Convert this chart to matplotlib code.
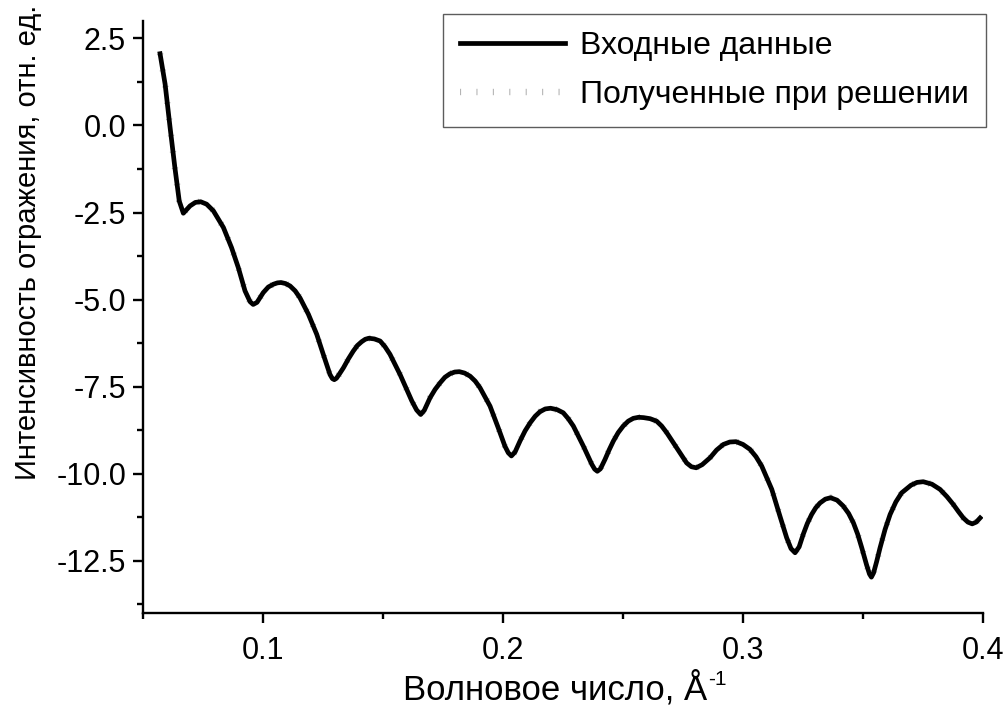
import matplotlib
matplotlib.use("Agg")
import matplotlib.pyplot as plt
from matplotlib.ticker import MultipleLocator

plt.rcParams['font.family'] = ['Liberation Sans', 'DejaVu Sans']
plt.rcParams['axes.unicode_minus'] = False

# волновое число, Å^-1
wave_number = [
    0.0571, 0.0592, 0.0613, 0.0633, 0.0651, 0.0668, 0.0696, 0.0718, 0.0740, 0.0765,
    0.0793, 0.0835, 0.0869, 0.0897, 0.0925, 0.0946, 0.0959, 0.0975, 0.0988, 0.1001,
    0.1022, 0.1043, 0.1060, 0.1075, 0.1094, 0.1113, 0.1134, 0.1154, 0.1189, 0.1224,
    0.1251, 0.1279, 0.1289, 0.1297, 0.1306, 0.1318, 0.1335, 0.1356, 0.1376, 0.1393,
    0.1411, 0.1426, 0.1441, 0.1464, 0.1488, 0.1508, 0.1529, 0.1571, 0.1620, 0.1640,
    0.1657, 0.1672, 0.1696, 0.1717, 0.1738, 0.1758, 0.1779, 0.1799, 0.1818, 0.1840,
    0.1863, 0.1884, 0.1904, 0.1946, 0.1980, 0.2008, 0.2022, 0.2035, 0.2050, 0.2071,
    0.2092, 0.2113, 0.2134, 0.2154, 0.2176, 0.2198, 0.2225, 0.2251, 0.2272, 0.2293,
    0.2335, 0.2370, 0.2382, 0.2393, 0.2406, 0.2425, 0.2442, 0.2460, 0.2480, 0.2501,
    0.2522, 0.2543, 0.2565, 0.2586, 0.2613, 0.2640, 0.2661, 0.2682, 0.2724, 0.2765,
    0.2785, 0.2805, 0.2830, 0.2863, 0.2890, 0.2918, 0.2945, 0.2971, 0.3000, 0.3029,
    0.3054, 0.3078, 0.3120, 0.3154, 0.3182, 0.3200, 0.3217, 0.3234, 0.3251, 0.3268,
    0.3286, 0.3303, 0.3321, 0.3343, 0.3365, 0.3392, 0.3418, 0.3440, 0.3460, 0.3478,
    0.3495, 0.3515, 0.3527, 0.3535, 0.3544, 0.3557, 0.3571, 0.3592, 0.3613, 0.3637,
    0.3661, 0.3700, 0.3725, 0.3751, 0.3787, 0.3821, 0.3850, 0.3876, 0.3898, 0.3918,
    0.3937, 0.3955, 0.3972, 0.3988,
]

# входные данные
input_intensity = [
    2.06, 1.19, -0.07, -1.22, -2.17, -2.52, -2.31, -2.21, -2.19, -2.26,
    -2.45, -2.93, -3.51, -4.08, -4.75, -5.06, -5.14, -5.08, -4.94, -4.80,
    -4.64, -4.56, -4.52, -4.51, -4.54, -4.61, -4.75, -4.95, -5.42, -6.00,
    -6.57, -7.15, -7.27, -7.30, -7.26, -7.14, -6.96, -6.70, -6.48, -6.32,
    -6.21, -6.14, -6.11, -6.13, -6.19, -6.35, -6.57, -7.15, -7.91, -8.17,
    -8.30, -8.18, -7.82, -7.58, -7.39, -7.23, -7.13, -7.08, -7.07, -7.11,
    -7.20, -7.34, -7.53, -8.06, -8.68, -9.21, -9.40, -9.49, -9.38, -9.06,
    -8.77, -8.54, -8.35, -8.22, -8.14, -8.12, -8.16, -8.25, -8.42, -8.63,
    -9.21, -9.73, -9.87, -9.93, -9.86, -9.59, -9.32, -9.06, -8.82, -8.63,
    -8.49, -8.41, -8.38, -8.39, -8.42, -8.49, -8.63, -8.82, -9.26, -9.69,
    -9.80, -9.83, -9.74, -9.54, -9.32, -9.16, -9.09, -9.08, -9.16, -9.30,
    -9.51, -9.78, -10.45, -11.22, -11.84, -12.15, -12.27, -12.10, -11.74, -11.43,
    -11.17, -10.98, -10.84, -10.73, -10.69, -10.76, -10.93, -11.14, -11.41, -11.74,
    -12.13, -12.62, -12.88, -12.97, -12.85, -12.52, -12.13, -11.60, -11.17, -10.81,
    -10.55, -10.33, -10.25, -10.23, -10.30, -10.45, -10.66, -10.88, -11.09, -11.27,
    -11.39, -11.44, -11.39, -11.27,
]

# полученные при решении (на графике совпадают с входными)
solved_intensity = list(input_intensity)

fig = plt.figure(figsize=(10.05, 7.09), dpi=100)
ax = fig.add_axes([0.1423, 0.1354, 0.8358, 0.835])

ax.plot(wave_number, solved_intensity, color='#b4b4b4', lw=4.6,
        dashes=(0.17, 2.4), label='Полученные при решении', zorder=2)
ax.plot(wave_number, input_intensity, color='black', lw=3.4,
        solid_joinstyle='round', label='Входные данные', zorder=3)

ax.set_xlim(0.05, 0.4)
ax.set_ylim(-14, 3)
ax.xaxis.set_major_locator(MultipleLocator(0.1))
ax.xaxis.set_minor_locator(MultipleLocator(0.05))
ax.yaxis.set_major_locator(MultipleLocator(2.5))
ax.yaxis.set_minor_locator(MultipleLocator(1.25))
ax.xaxis.set_major_formatter(plt.FuncFormatter(lambda v, p: f"{v:.1f}"))
ax.yaxis.set_major_formatter(plt.FuncFormatter(lambda v, p: f"{v:.1f}"))

for s in ['top', 'right']:
    ax.spines[s].set_visible(False)
for s in ['left', 'bottom']:
    ax.spines[s].set_linewidth(1.7)

ax.tick_params(which='major', direction='out', length=7.2, width=1.7,
               labelsize=22, pad=5)
ax.tick_params(axis='x', which='major', pad=9)
ax.tick_params(which='minor', direction='out', length=4.3, width=1.7)

# подпись оси X с верхним индексом "-1" как в оригинале
xlab = fig.text(555 / 1005, 1 - 689 / 709, 'Волновое число, Å',
                fontsize=25, ha='center', va='center')
ax.annotate('-1', xy=(1.0, 1.0), xycoords=xlab, xytext=(1, 1),
            textcoords='offset points', fontsize=15, ha='left', va='top',
            annotation_clip=False)
fig.text(28 / 1005, 1 - 242 / 709, 'Интенсивность отражения, отн. ед.',
         fontsize=21, rotation=90, ha='center', va='center')

handles, labels = ax.get_legend_handles_labels()
leg = fig.legend(handles[::-1], labels[::-1], loc='upper right',
                 bbox_to_anchor=(0.981, 0.980), borderaxespad=0,
                 fontsize=23, frameon=True, fancybox=False,
                 handlelength=3.3, handletextpad=0.47, labelspacing=0.6,
                 borderpad=0.52)
leg.get_frame().set_edgecolor('#333333')
leg.get_frame().set_linewidth(1.0)

fig.savefig('out.png', dpi=100)
